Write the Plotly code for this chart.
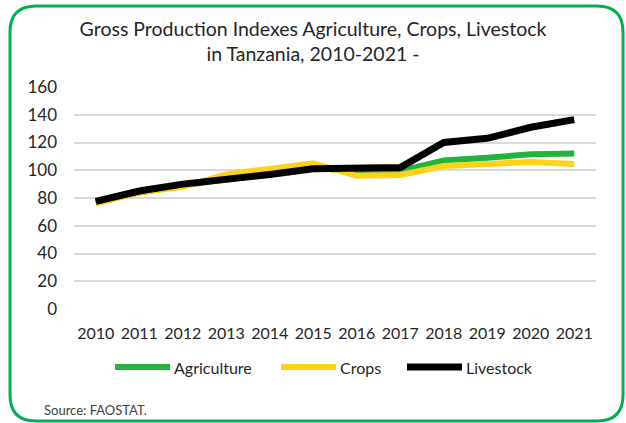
"""
Gross Production Indexes (Agriculture, Crops, Livestock) in Tanzania, 2010-2021.
Line chart recreated with Plotly.
"""

import plotly.graph_objects as go

years = ["2010", "2011", "2012", "2013", "2014", "2015",
         "2016", "2017", "2018", "2019", "2020", "2021"]
agriculture = [77, 84, 89, 94, 98, 102, 99, 99.5, 107, 109, 111.5, 112]
crops = [76, 84, 88, 97, 101, 105, 96, 96.6, 103, 105, 106, 104.5]
livestock = [77.5, 85, 90, 93, 97, 101, 101.5, 102, 120, 123, 131, 136.5]

W, H = 626, 423
# plot area in pixels
L, R, T, B = 74, 596, 87, 309

GREEN = "#22b53c"
YELLOW = "#ffd21a"
BLACK = "#000000"
BORDER = "#00b050"
TEXT = "#262626"
FONT = "Lato, Open Sans, sans-serif"


def px_x(x):
    return (x - L) / (R - L)


def px_y(y):
    return (B - y) / (B - T)


series = [
    ("Agriculture", agriculture, GREEN, 6),
    ("Crops", crops, YELLOW, 6),
    ("Livestock", livestock, BLACK, 7),
]

fig = go.Figure()

for name, vals, color, width in series:
    fig.add_trace(go.Scatter(
        x=years, y=vals, name=name, mode="lines", showlegend=False,
        line=dict(color=color, width=width),
    ))

# legend drawn by hand: Excel-style long line keys under the axis
legend_y = px_y(367)
legend_start = [115, 281, 407]
for (name, _, color, width), x in zip(series, legend_start):
    fig.add_shape(type="line", xref="paper", yref="paper",
                  x0=px_x(x), x1=px_x(x + 55), y0=legend_y, y1=legend_y,
                  line=dict(color=color, width=width))
    fig.add_annotation(
        text=name, xref="paper", yref="paper", x=px_x(x + 57), y=legend_y,
        xanchor="left", yanchor="middle", showarrow=False,
        font=dict(family=FONT, size=16, color=TEXT),
    )

# rounded green frame round the whole chart
x0, x1 = px_x(10), px_x(623)
y0, y1 = px_y(6), px_y(421)
rx = 26 / (R - L)
ry = 26 / (B - T)
path = (
    f"M {x0 + rx},{y0} L {x1 - rx},{y0} Q {x1},{y0} {x1},{y0 - ry} "
    f"L {x1},{y1 + ry} Q {x1},{y1} {x1 - rx},{y1} "
    f"L {x0 + rx},{y1} Q {x0},{y1} {x0},{y1 + ry} "
    f"L {x0},{y0 - ry} Q {x0},{y0} {x0 + rx},{y0} Z"
)
fig.add_shape(type="path", path=path, xref="paper", yref="paper",
              line=dict(color=BORDER, width=3), layer="above")

fig.add_annotation(
    text="Source: FAOSTAT.", xref="paper", yref="paper",
    x=px_x(42), y=px_y(410), xanchor="left", yanchor="middle",
    showarrow=False, font=dict(family=FONT, size=13, color="#404040"),
)

fig.update_layout(
    width=W, height=H,
    margin=dict(l=L, r=W - R, t=T, b=H - B),
    paper_bgcolor="white", plot_bgcolor="white",
    font=dict(family=FONT, color=TEXT),
    title=dict(
        text="Gross Production Indexes Agriculture, Crops, Livestock<br>in Tanzania, 2010-2021 -",
        x=0.5, xref="container", xanchor="center",
        y=1 - 36 / H, yref="container", yanchor="middle",
        font=dict(family=FONT, size=19.5, color=TEXT),
    ),
    showlegend=False,
    xaxis=dict(
        type="category", range=[-0.5, 11.5], showgrid=False,
        showline=False, ticks="", zeroline=False, ticklabelstandoff=13,
        tickfont=dict(family=FONT, size=16, color=TEXT),
    ),
    yaxis=dict(
        range=[0, 160], dtick=20, showgrid=True, gridcolor="#d9d9d9",
        gridwidth=1.5, zeroline=False, showline=False, ticks="",
        ticklabelstandoff=16,
        tickfont=dict(family=FONT, size=17, color=TEXT),
    ),
)

# drop the page's default body margin so the figure fills the window
fig.write_html(
    "out.html",
    config={"displayModeBar": False},
    post_script="document.body.style.margin='0';document.body.style.overflow='hidden';",
)
